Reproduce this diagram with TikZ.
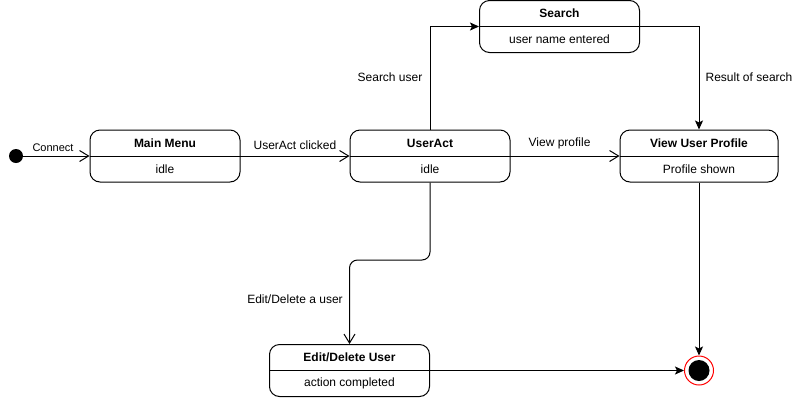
\documentclass[tikz,border=0pt]{standalone}
\usepackage{fontspec}
\setmainfont{Liberation Sans}
\usetikzlibrary{arrows.meta,calc}

\tikzset{
  statebox/.style={draw, rounded corners=10pt, line width=1pt, inner sep=0pt,
                   minimum width=#1},
  statebox/.default=150pt,
  ttl/.style={font=\fontsize{12}{14}\selectfont\bfseries},
  sub/.style={font=\fontsize{12}{14}\selectfont},
  lbl/.style={font=\fontsize{12}{14}\selectfont},
  openarrow/.style={line width=1pt, -{Straight Barb[length=9pt,width=11pt,line width=1pt]}},
  fillarrow/.style={line width=1pt, -{Stealth[length=9pt,width=8pt,inset=2pt]}},
}

% a state box with a title part and a sub part split by a line
\newcommand{\umlstate}[6]{%
  \node[statebox=#4, minimum height=52pt] (#1) at (#2,#3) {};
  \draw[line width=1pt] (#1.west) -- (#1.east);
  \node[ttl] (#1-t) at ($(#1.west)!0.5!(#1.east)+(0,-13)$) {#5};
  \node[sub] (#1-s) at ($(#1.west)!0.5!(#1.east)+(0,13)$) {#6};
}

\begin{document}
\begin{tikzpicture}[x=1pt,y=-1pt]
  \useasboundingbox (0,0) rectangle (800,400);

  % states
  \umlstate{main}{165}{156}{150pt}{Main Menu}{idle}
  \umlstate{useract}{430}{156}{160pt}{UserAct}{idle}
  \umlstate{profile}{699}{156}{158pt}{View User Profile}{Profile shown}
  \umlstate{search}{559.5}{26.5}{160pt}{Search}{user name entered}
  \umlstate{edit}{349.5}{370.5}{160pt}{Edit/Delete User}{action completed}

  % initial and final pseudo states
  \node[circle, fill=black, minimum size=14pt, inner sep=0pt] (start) at (16,156) {};
  \node[circle, draw=red, line width=1pt, minimum size=29pt, inner sep=0pt] (final) at (699,370.5) {};
  \node[circle, fill=black, minimum size=21pt, inner sep=0pt] (finalcore) at (699,370.5) {};

  % transitions
  \draw[openarrow] (start) -- (main.west)
    node[pos=0.45, above=1pt, font=\fontsize{11}{13}\selectfont] {Connect};
  \draw[openarrow] (main.east) -- (useract.west)
    node[midway, lbl, above=3pt] {UserAct clicked};
  \draw[openarrow] (useract.east) -- (profile.west)
    node[pos=0.45, lbl, above=3pt] {View profile};

  \coordinate (up) at (useract.north |- search.west);
  \draw[fillarrow] (useract.north) -- (up) -- (search.west);
  \node[lbl] (searchlbl) at (390,77) {Search user};

  \coordinate (rt) at (profile.north |- search.east);
  \draw[fillarrow] (search.east) -- (rt) -- (profile.north);
  \node[lbl] (resultlbl) at (749,77) {Result of search};

  \coordinate (bend1) at (430,260);
  \coordinate (bend2) at (edit.north |- bend1);
  \draw[openarrow, rounded corners=8pt] (useract.south) -- (bend1) -- (bend2) -- (edit.north);
  \node[lbl] (editlbl) at (295,299) {Edit/Delete a user};

  \draw[fillarrow] (edit.east) -- (final.west);
  \draw[fillarrow] (profile.south) -- (final.north);
\end{tikzpicture}
\end{document}
